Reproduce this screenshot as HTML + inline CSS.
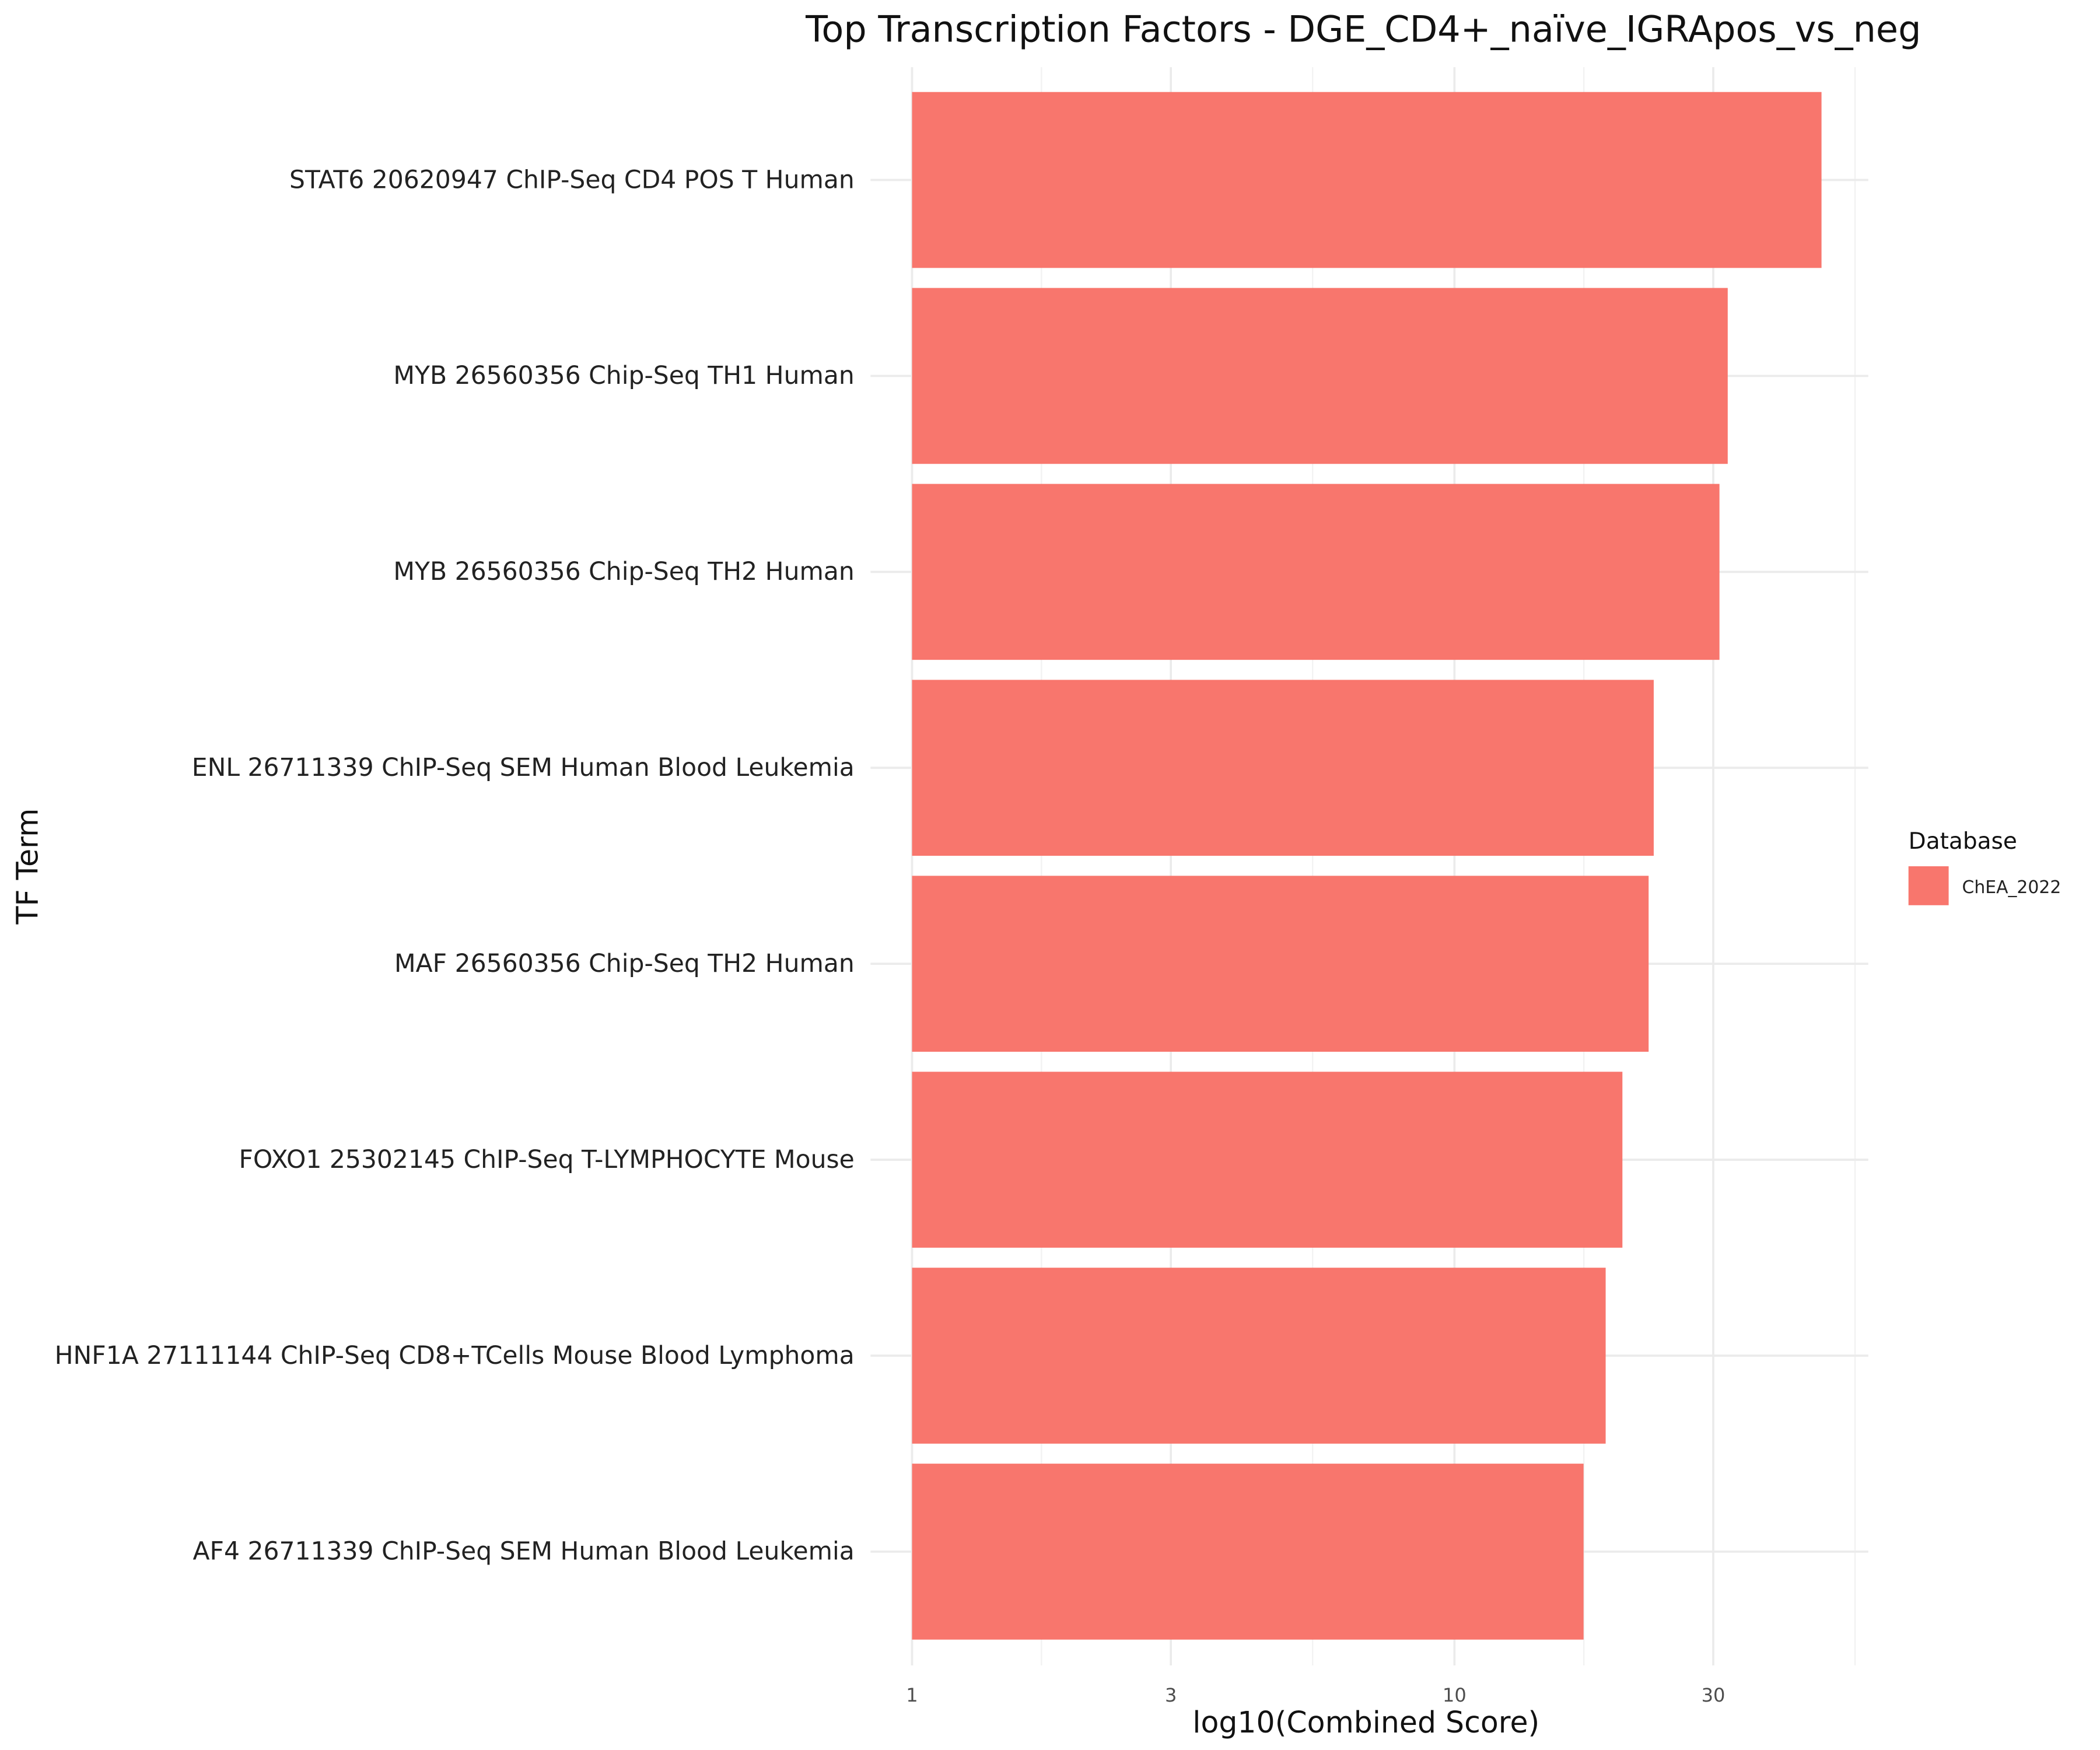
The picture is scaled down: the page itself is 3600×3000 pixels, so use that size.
<!DOCTYPE html>
<html><head><meta charset="utf-8"><style>
html,body{margin:0;padding:0;background:#fff;}
svg{display:block;}
text{font-family:"DejaVu Sans","Liberation Sans",sans-serif;}
</style></head><body>
<svg id="chart" width="3600" height="3000" viewBox="0 0 1568 1303" preserveAspectRatio="none" xmlns="http://www.w3.org/2000/svg">
<rect width="1568" height="1303" fill="#fff"/>
<g id="grid"></g>
<g id="bars"></g>
<g id="labels"></g>
<text x="1018" y="31" font-size="27" text-anchor="middle" fill="#111">Top Transcription Factors - DGE_CD4+_naïve_IGRApos_vs_neg</text>
<text x="1020" y="1290" font-size="22" text-anchor="middle" fill="#111">log10(Combined Score)</text>
<text transform="translate(28,645) rotate(-90)" font-size="22" text-anchor="middle" fill="#111">TF Term</text>
<g>
<text x="1425" y="632" font-size="17" fill="#111">Database</text>
<rect x="1425" y="645" width="30" height="29" fill="#F8766D"/>
<text x="1465" y="665" font-size="13" fill="#222">ChEA_2022</text>
</g>
</svg>
<script>
const categories=["STAT6 20620947 ChIP-Seq CD4 POS T Human","MYB 26560356 Chip-Seq TH1 Human","MYB 26560356 Chip-Seq TH2 Human","ENL 26711339 ChIP-Seq SEM Human Blood Leukemia","MAF 26560356 Chip-Seq TH2 Human","FOXO1 25302145 ChIP-Seq T-LYMPHOCYTE Mouse","HNF1A 27111144 ChIP-Seq CD8+TCells Mouse Blood Lymphoma","AF4 26711339 ChIP-Seq SEM Human Blood Leukemia"];
const scores=[47.5,31.9,30.8,23.3,22.8,20.4,19.0,17.3];
const xTicks=[1,3,10,30];
const xMinor=[1.732,5.477,17.32,54.77];
const NS="http://www.w3.org/2000/svg";
const x0=681, perDecade=405;
function xs(v){return x0+Math.log10(v)*perDecade;}
const step=145.9, bandH=131;
function yc(i){return 134+i*step;}
const grid=document.getElementById('grid'),bars=document.getElementById('bars'),labels=document.getElementById('labels');
function mk(tag,attrs,parent){const e=document.createElementNS(NS,tag);for(const k in attrs)e.setAttribute(k,attrs[k]);parent.appendChild(e);return e;}
xMinor.forEach(v=>{const l=mk('line',{x1:xs(v),x2:xs(v),y1:50,y2:1240,stroke:'#f2f2f2','stroke-width':1},grid);

});
xTicks.forEach(v=>{const l=mk('line',{x1:xs(v),x2:xs(v),y1:50,y2:1240,stroke:'#ebebeb','stroke-width':1.6},grid);


const t=mk('text',{x:xs(v),y:1267,'font-size':14,'text-anchor':'middle',fill:'#4d4d4d'},labels);t.textContent=v;

});
categories.forEach((c,i)=>{const y=yc(i);
const g=mk('line',{x1:650,x2:1395,y1:y,y2:y,stroke:'#ebebeb','stroke-width':1.6},grid);


const r=mk('rect',{x:xs(1),y:y-bandH/2,width:xs(scores[i])-xs(1),height:bandH,fill:'#F8766D'},bars);


const t=mk('text',{x:638,y:y+6,'font-size':18.5,'text-anchor':'end',fill:'#222'},labels);t.textContent=c;

});
</script>
</body></html>
